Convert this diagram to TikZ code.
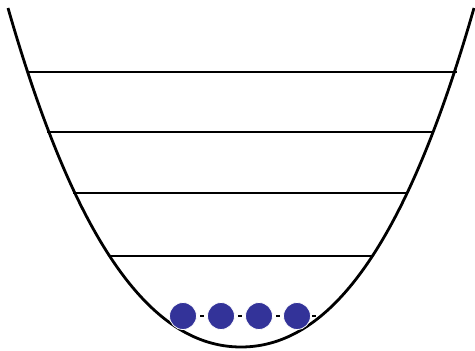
\documentclass[tikz,border=0pt]{standalone}
\usepackage{tikz}
\usetikzlibrary{positioning}
\definecolor{welldot}{RGB}{51,51,153}

\begin{document}
\begin{tikzpicture}[
  x=1pt, y=-1pt,
  well/.style={line width=2.8pt, black},
  level/.style={line width=1.3pt, black},
  dot/.style={circle, fill=welldot, draw=white, line width=0.8pt,
              minimum size=27pt, inner sep=0pt, outer sep=0pt},
  link/.style={line width=1.3pt, black, shorten <=3.5pt, shorten >=3.5pt}]
\useasboundingbox (0,0) rectangle (475,351);
% potential well
\draw[well] (8,8) .. controls (74,238) and (149,347) .. (241,347)
  .. controls (333,347) and (408,238) .. (474,8);
% energy levels
\draw[level] (28,72) -- (457,72);
\draw[level] (47,132) -- (434,132);
\draw[level] (73,193) -- (408,193);
\draw[level] (110,256) -- (373,256);
% particles in the ground state
\node[dot] (d1) at (183,316) {};
\node[dot, right=11pt of d1] (d2) {};
\node[dot, right=11pt of d2] (d3) {};
\node[dot, right=11pt of d3] (d4) {};
\coordinate[right=5pt of d4] (tail);
\draw[link] (d1) -- (d2); \draw[link] (d2) -- (d3); \draw[link] (d3) -- (d4);
\draw[link, shorten <=1.5pt, shorten >=0pt] (d4) -- (tail);
\end{tikzpicture}
\end{document}
